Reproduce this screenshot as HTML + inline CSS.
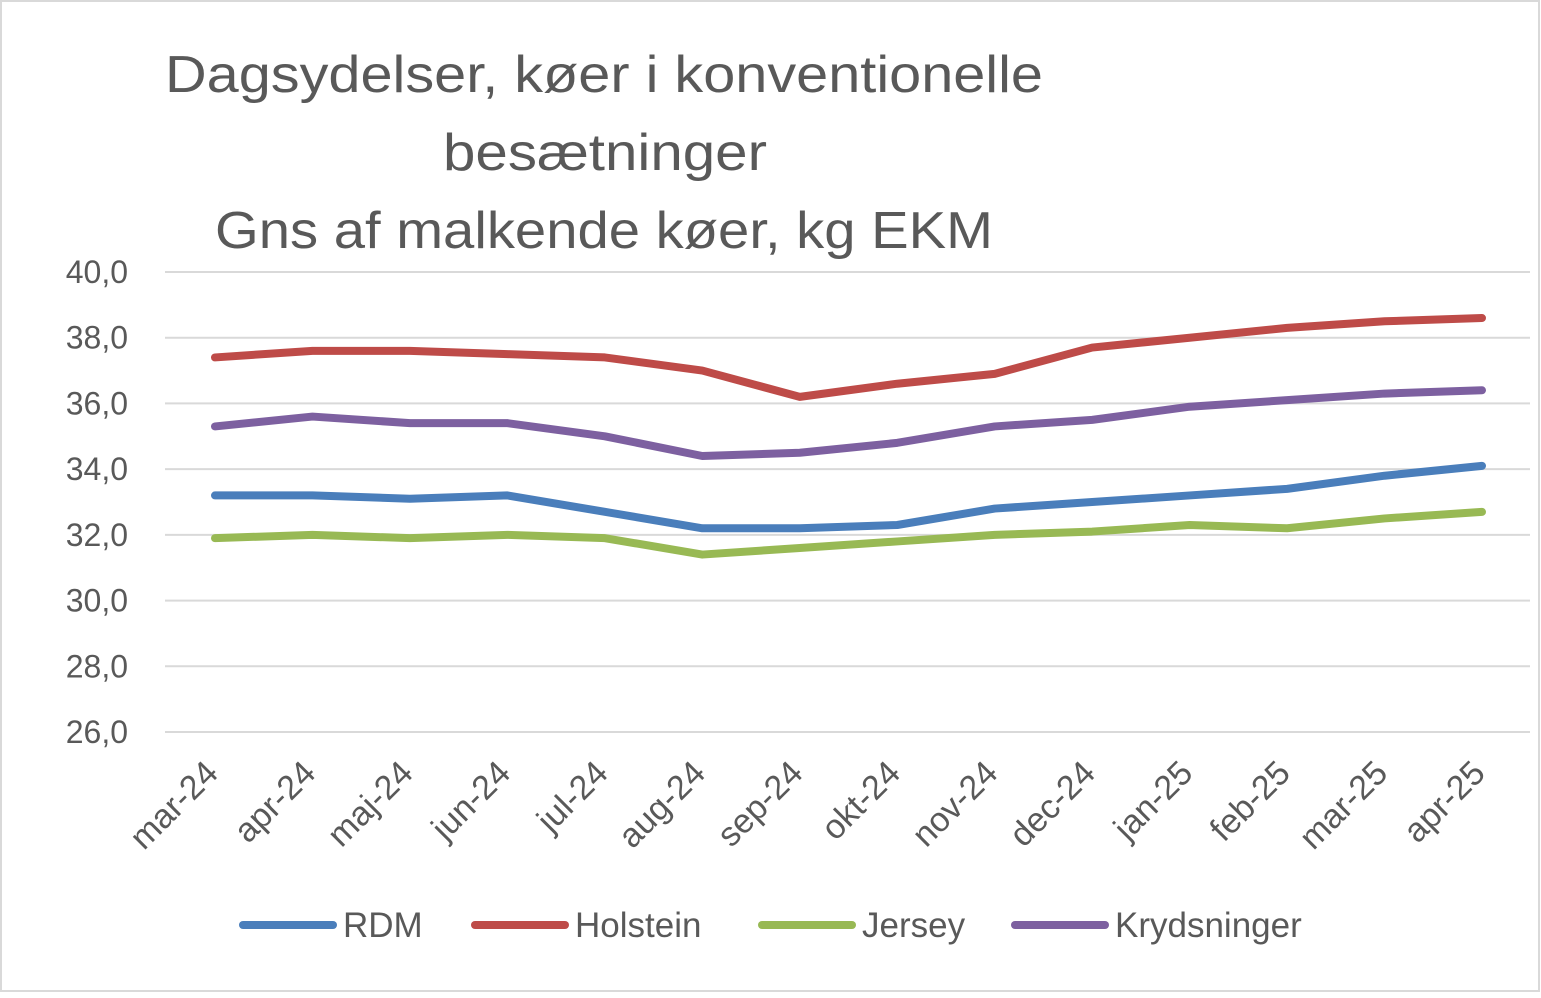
<!DOCTYPE html>
<html><head><meta charset="utf-8"><style>
html,body{margin:0;padding:0;background:#fff}
svg text{font-family:"Liberation Sans",sans-serif;fill:#595959}
</style></head><body>
<svg width="1541" height="993" xmlns="http://www.w3.org/2000/svg">
<rect x="1" y="1" width="1538" height="990" fill="#fff" stroke="#d9d9d9" stroke-width="2"/>
<g font-size="52">
<text x="165" y="92" textLength="878" lengthAdjust="spacingAndGlyphs">Dagsydelser, køer i konventionelle</text>
<text x="443" y="170" textLength="324" lengthAdjust="spacingAndGlyphs">besætninger</text>
<text x="215" y="248" textLength="778" lengthAdjust="spacingAndGlyphs">Gns af malkende køer, kg EKM</text>
</g>
<g id="grid"></g>
<g id="yt"></g>
<g id="xt"></g>
<g id="lines"></g>
<g id="legend"></g>
</svg>
<script>
const categories=["mar-24","apr-24","maj-24","jun-24","jul-24","aug-24","sep-24","okt-24","nov-24","dec-24","jan-25","feb-25","mar-25","apr-25"];
const rdm=[33.2,33.2,33.1,33.2,32.7,32.2,32.2,32.3,32.8,33.0,33.2,33.4,33.8,34.1];
const holstein=[37.4,37.6,37.6,37.5,37.4,37.0,36.2,36.6,36.9,37.7,38.0,38.3,38.5,38.6];
const jersey=[31.9,32.0,31.9,32.0,31.9,31.4,31.6,31.8,32.0,32.1,32.3,32.2,32.5,32.7];
const kryds=[35.3,35.6,35.4,35.4,35.0,34.4,34.5,34.8,35.3,35.5,35.9,36.1,36.3,36.4];
const yTicks=[26,28,30,32,34,36,38,40];
const seriesNames=["RDM","Holstein","Jersey","Krydsninger"];
const NS="http://www.w3.org/2000/svg";
const y=v=>732-(v-26)*(460/14);
const x=i=>215+i*(1267/13);
function mk(t,a,p){const e=document.createElementNS(NS,t);for(const k in a)e.setAttribute(k,a[k]);p.appendChild(e);return e;}
const grid=document.getElementById('grid'),yt=document.getElementById('yt'),xt=document.getElementById('xt'),lines=document.getElementById('lines'),lg=document.getElementById('legend');
yTicks.forEach(v=>{
 const l=mk('line',{x1:165,x2:1530,y1:y(v),y2:y(v),stroke:'#d9d9d9','stroke-width':2},grid);
 
 
 const t=mk('text',{x:128,y:y(v)+11,'text-anchor':'end','font-size':32},yt);
 t.textContent=v.toFixed(1).replace('.',',');
 
 
});
categories.forEach((c,i)=>{
 const ax=x(i)+5, ay=775;
 const t=mk('text',{x:ax,y:ay,'text-anchor':'end','font-size':34,transform:`rotate(-45 ${ax} ${ay})`},xt);
 t.textContent=c;
 
 
});
const series=[[rdm,'#4a7ebb'],[holstein,'#be4b48'],[jersey,'#98b954'],[kryds,'#7d60a0']];
series.forEach(([d,col],k)=>{
 const p=mk('polyline',{points:d.map((v,i)=>x(i)+','+y(v)).join(' '),fill:'none',stroke:col,'stroke-width':8,'stroke-linejoin':'round','stroke-linecap':'round'},lines);
 
 
});
const lx=[243,475,762,1015];
series.forEach(([d,col],k)=>{
 const l=mk('line',{x1:lx[k],x2:lx[k]+90,y1:925,y2:925,stroke:col,'stroke-width':8,'stroke-linecap':'round'},lg);
 
 
 const t=mk('text',{x:lx[k]+100,y:937,'font-size':35},lg);
 t.textContent=seriesNames[k];
 
 
});
</script>
</body></html>
